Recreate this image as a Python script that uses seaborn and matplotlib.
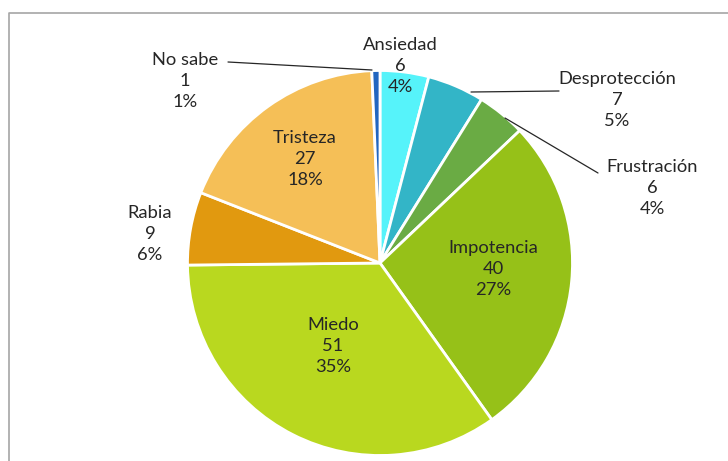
import matplotlib
matplotlib.use("Agg")
import matplotlib.pyplot as plt
import seaborn as sns

categories = ["Ansiedad", "Desprotección", "Frustración", "Impotencia",
              "Miedo", "Rabia", "Tristeza", "No sabe"]
values = [6, 7, 6, 40, 51, 9, 27, 1]
percent_labels = ["4%", "5%", "4%", "27%", "35%", "6%", "18%", "1%"]
colors = ["#56F3FA", "#33B5C7", "#6AAB44", "#96C118",
          "#B9D81F", "#E1990F", "#F5BF57", "#2266C0"]

sns.set_theme(style="white")
plt.rcParams["font.family"] = ["Lato", "DejaVu Sans"]

W, H = 728, 461
fig = plt.figure(figsize=(W / 100, H / 100), dpi=100)
ax = fig.add_axes([0, 0, 1, 1])

# frame
ax.plot([8.5, 8.5, W + 5], [-5, H - 12.5, H - 12.5], color="#A6A6A6", lw=1.2,
        solid_capstyle="butt")

cx, cy, r = 380, H - 263, 192.5
ax.pie(values, colors=colors, startangle=90, counterclock=False,
       center=(cx, cy), radius=r, frame=True,
       wedgeprops=dict(edgecolor="white", linewidth=2))
ax.set_xlim(0, W)
ax.set_ylim(0, H)
ax.set_aspect("equal")
ax.axis("off")

# label positions (pixel coords, y from top)
label_pos = {
    "Ansiedad": (400, 66),
    "Desprotección": (617, 100),
    "Frustración": (652, 188),
    "Impotencia": (493, 269),
    "Miedo": (333, 346),
    "Rabia": (150, 234),
    "Tristeza": (305, 159),
    "No sabe": (185, 81),
}
for cat, v, p in zip(categories, values, percent_labels):
    x, y = label_pos[cat]
    ax.text(x, H - y, f"{cat}\n{v}\n{p}", ha="center", va="center",
            fontsize=13.2, color="#262626", linespacing=1.38)

# leader lines
leaders = [((228, 62), (372, 70)),
           ((559, 91), (471, 92)),
           ((598, 173), (505, 118))]
for (x1, y1), (x2, y2) in leaders:
    ax.plot([x1, x2], [H - y1, H - y2], color="#262626", lw=0.9)

fig.savefig("out.png", dpi=100)
